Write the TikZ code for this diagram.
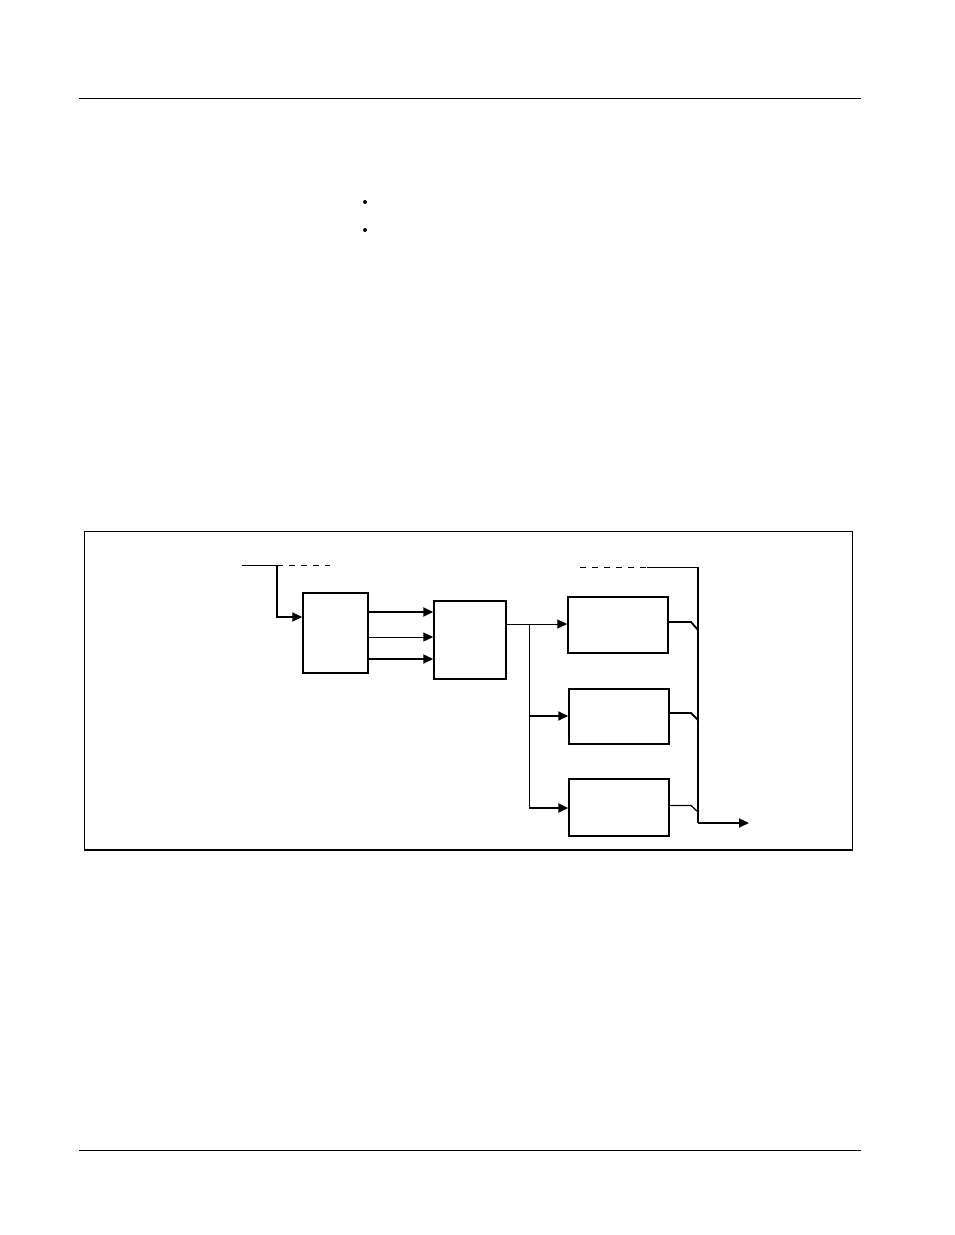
\documentclass[tikz,border=0pt]{standalone}
\usetikzlibrary{arrows.meta}
\begin{document}
\begin{tikzpicture}[x=1pt,y=-1pt,
  thin line/.style={line width=1pt},
  thick line/.style={line width=1.8pt},
  tip/.style={-{Triangle[length=10pt,width=9pt]}},
  blockbox/.style={draw,line width=1.5pt,inner sep=0pt},
  outbox/.style={draw,line width=1.5pt,inner sep=0pt,minimum width=100pt},
  dashline/.style={line width=1pt,dash pattern=on 6pt off 6pt},
  bulletdot/.style={circle,fill=black,inner sep=0pt,minimum size=4pt}]
\fill[white] (0,0) rectangle (954,1235);
\useasboundingbox (0,0) rectangle (954,1235);
% page rules
\draw[line width=1pt] (79,98) -- (861,98);
\draw[line width=1pt] (79,1150) -- (861,1150);
% bullets
\node[bulletdot] (b1) at (365,202) {};
\node[bulletdot] (b2) at (365,230) {};
% frame
\draw[line width=1pt] (84,850) -- (84,531) -- (852,531) -- (852,850);
\draw[line width=2pt] (84,850) -- (853,850);
% blocks
\node[blockbox,minimum width=65pt,minimum height=80pt] (box1) at (335.5,633) {};
\node[blockbox,minimum width=72pt,minimum height=78pt] (box2) at (470,640) {};
\node[outbox,minimum height=56pt] (box3a) at (618,625) {};
\node[outbox,minimum height=55pt] (box3b) at (619,716.5) {};
\node[outbox,minimum height=57pt] (box3c) at (619,807.5) {};
% input
\coordinate (in) at (242,565);
\coordinate (j1) at (277,565);
\coordinate (indash) at (330,565);
\draw[thin line] (in) -- (j1);
\draw[dashline] (j1) -- (indash);
\draw[thick line,tip] (j1) |- (box1.west |- 0,617);
% box1 -> box2
\draw[thick line,tip] (box1.east |- 0,612) -- (box2.west |- 0,612);
\draw[thin line,tip] (box1.east |- 0,637) -- (box2.west |- 0,637);
\draw[thick line,tip] (box1.east |- 0,659) -- (box2.west |- 0,659);
% box2 -> outputs
\coordinate (split) at (529,624);
\draw[thin line,tip] (box2.east |- 0,624) -- (box3a.west |- 0,624);
\draw[thin line] (split) -- (529,808);
\draw[thick line,tip] (529,716) -- (box3b.west |- 0,716);
\draw[thick line,tip] (529,808) -- (box3c.west |- 0,808);
% right bus
\coordinate (busdash) at (580,567);
\coordinate (busstart) at (647,567);
\coordinate (bustop) at (698,567);
\coordinate (busbot) at (698,823);
\coordinate (out) at (749,823);
\draw[dashline] (busdash) -- (busstart);
\draw[thin line] (busstart) -- (bustop);
\draw[thick line] (bustop) -- (busbot);
\draw[thick line,tip] (busbot) -- (out);
% box outputs to bus
\draw[thick line] (box3a.east |- 0,622) -- (691,622) -- (698,630);
\draw[thick line] (box3b.east |- 0,713) -- (691,713) -- (698,720);
\draw[line width=1.2pt] (box3c.east |- 0,805.5) -- (691,805.5) -- (698,812);
\end{tikzpicture}
\end{document}
